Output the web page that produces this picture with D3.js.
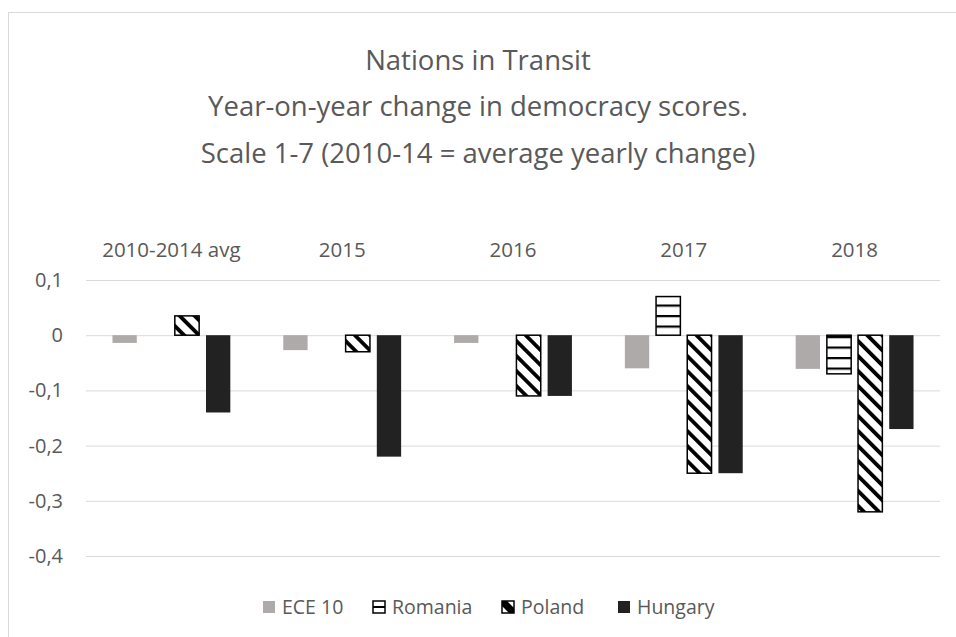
<!DOCTYPE html>
<html>
<head>
<meta charset="utf-8">
<script src="https://cdn.jsdelivr.net/npm/d3@7"></script>
<style>
  body { margin: 0; background: #fff; }
  svg { display: block; }
</style>
</head>
<body>
<div id="chart"></div>
<script>
// data
const categories = ["2010-2014 avg", "2015", "2016", "2017", "2018"];
const seriesNames = ["ECE 10", "Romania", "Poland", "Hungary"];
const ece10 = [-0.014, -0.027, -0.014, -0.06, -0.061];
const romania = [0, 0, 0, 0.07, -0.07];
const poland = [0.035, -0.03, -0.11, -0.25, -0.32];
const hungary = [-0.14, -0.22, -0.11, -0.25, -0.17];
const yTicks = [0.1, 0, -0.1, -0.2, -0.3, -0.4];
const titleLines = ["Nations in Transit", "Year-on-year change in democracy scores.", "Scale 1-7 (2010-14 = average yearly change)"];

const seriesValues = [ece10, romania, poland, hungary];

let width = 956, height = 637;
let margin = ({ top: 280, right: 16, bottom: 81, left: 86 });
const font = "'Open Sans', sans-serif";
const textColor = "#595959";

let svg = d3.select("#chart")
    .append("svg")
    .attr("width", width)
    .attr("height", height)
    .attr("font-family", font);

// chart area border (only top/left visible in the crop)
svg.append("rect")
    .attr("x", 8.5).attr("y", 12.5)
    .attr("width", width + 20).attr("height", height + 20)
    .attr("fill", "#fff")
    .attr("stroke", "#d9d9d9");

let defs = svg.append("defs");

// horizontal stripes for Romania
let hp = defs.append("pattern")
    .attr("id", "hstripe")
    .attr("patternUnits", "userSpaceOnUse")
    .attr("width", 8).attr("height", 10.5);
hp.append("rect").attr("width", 8).attr("height", 10.5).attr("fill", "#fff");
hp.append("rect").attr("y", 0).attr("width", 8).attr("height", 2.2).attr("fill", "#000");

// downward diagonal stripes for Poland
let dp = defs.append("pattern")
    .attr("id", "dstripe")
    .attr("patternUnits", "userSpaceOnUse")
    .attr("width", 10.6).attr("height", 10)
    .attr("patternTransform", "rotate(-45)");
dp.append("rect").attr("width", 10.6).attr("height", 10).attr("fill", "#fff");
dp.append("rect").attr("width", 3.8).attr("height", 10).attr("fill", "#000");

const fills = ["#aeaaaa", "url(#hstripe)", "url(#dstripe)", "#222222"];
const strokes = [null, "#000", "#000", null];

let x0 = d3.scaleBand()
    .domain(categories)
    .range([margin.left, width - margin.right]);

let inset = x0.bandwidth() * 0.155;
let x1 = d3.scaleBand()
    .domain(seriesNames)
    .range([inset, x0.bandwidth() - inset])
    .paddingInner(0.22);

let y = d3.scaleLinear()
    .domain([-0.4, 0.1])
    .range([height - margin.bottom, margin.top]);

let fmt = d => d === 0 ? "0" : d3.format(".1f")(d).replace(".", ",").replace("−", "-");

// gridlines + y labels
svg.append("g")
    .attr("transform", `translate(${margin.left},0)`)
    .call(d3.axisLeft(y).tickValues(yTicks).tickFormat(fmt)
        .tickSize(-(width - margin.left - margin.right)).tickPadding(23))
    .call(g => g.select(".domain").remove())
    .call(g => g.selectAll(".tick line").attr("stroke", "#d9d9d9"))
    .call(g => g.selectAll(".tick text")
        .attr("fill", textColor)
        .attr("font-size", 20)
        .attr("font-family", font));

// category labels above the plot
svg.append("g")
    .selectAll("text")
    .data(categories)
    .join("text")
    .attr("x", d => x0(d) + x0.bandwidth() / 2)
    .attr("y", 250)
    .attr("dy", "0.35em")
    .attr("text-anchor", "middle")
    .attr("font-size", 20.5)
    .attr("fill", textColor)
    .text(d => d);

// bars
let rows = categories.map((c, i) => ({
    cat: c,
    vals: seriesNames.map((s, j) => ({ key: s, idx: j, value: seriesValues[j][i] }))
}));

svg.append("g")
    .selectAll("g")
    .data(rows)
    .join("g")
    .attr("transform", d => `translate(${x0(d.cat)},0)`)
    .selectAll("rect")
    .data(d => d.vals.filter(v => v.value !== 0))
    .join("rect")
    .attr("x", d => x1(d.key))
    .attr("width", x1.bandwidth())
    .attr("y", d => y(Math.max(0, d.value)))
    .attr("height", d => Math.abs(y(d.value) - y(0)))
    .attr("fill", d => fills[d.idx])
    .attr("stroke", d => strokes[d.idx])
    .attr("stroke-width", 1.5);

// title
svg.append("g")
    .selectAll("text")
    .data(titleLines)
    .join("text")
    .attr("x", 478)
    .attr("y", (d, i) => 60 + i * 46.5)
    .attr("dy", "0.35em")
    .attr("text-anchor", "middle")
    .attr("font-size", 27.5)
    .attr("fill", textColor)
    .text(d => d);

// legend
let legPat = defs.append("pattern")
    .attr("id", "leg-h").attr("patternUnits", "objectBoundingBox")
    .attr("width", 1).attr("height", 1);
legPat.append("rect").attr("width", 12).attr("height", 12).attr("fill", "#fff");
legPat.append("rect").attr("y", 5).attr("width", 12).attr("height", 2).attr("fill", "#000");

let legPat2 = defs.append("pattern")
    .attr("id", "leg-d").attr("patternUnits", "objectBoundingBox")
    .attr("width", 1).attr("height", 1);
legPat2.append("rect").attr("width", 12).attr("height", 12).attr("fill", "#fff");
legPat2.append("path").attr("d", "M0,0 L5,0 L12,7 L12,12 L7,12 L0,5 Z").attr("fill", "#000");

const legendFills = ["#aeaaaa", "url(#leg-h)", "url(#leg-d)", "#222222"];
const legendX = [263, 373, 502, 618];

let legend = svg.append("g")
    .selectAll("g")
    .data(seriesNames)
    .join("g")
    .attr("transform", (d, i) => `translate(${legendX[i]},607)`);

legend.append("rect")
    .attr("x", 0).attr("y", -6)
    .attr("width", 12).attr("height", 12)
    .attr("fill", (d, i) => legendFills[i])
    .attr("stroke", (d, i) => strokes[i])
    .attr("stroke-width", 1.5);

legend.append("text")
    .attr("x", 19)
    .attr("dy", "0.35em")
    .attr("font-size", 19.5)
    .attr("fill", textColor)
    .text(d => d);
</script>
</body>
</html>
